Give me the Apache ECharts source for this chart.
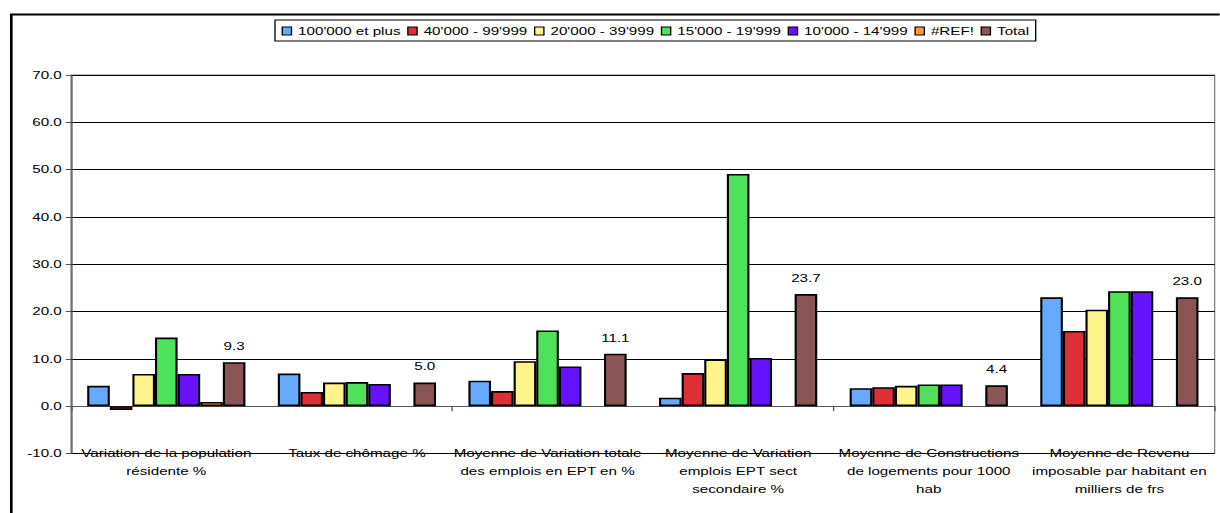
<!DOCTYPE html>
<html>
<head>
<meta charset="utf-8">
<script src="https://cdn.jsdelivr.net/npm/echarts@6/dist/echarts.min.js"></script>
<style>
html,body{margin:0;padding:0;background:#fff;overflow:hidden;}
#wrap{width:1220px;height:513px;overflow:hidden;background:#fff;}
#chart{height:513px;transform-origin:0 0;}
</style>
</head>
<body>
<div id="wrap"><div id="chart"></div></div>
<script>
const categories = [
  "Variation de la population\nrésidente %",
  "Taux de chômage %",
  "Moyenne de Variation totale\ndes emplois en EPT en %",
  "Moyenne de Variation\nemplois EPT sect\nsecondaire %",
  "Moyenne de Constructions\nde logements pour 1000\nhab",
  "Moyenne de Revenu\nimposable par habitant en\nmilliers de frs"
];
const seriesNames = ["100'000 et plus", "40'000 - 99'999", "20'000 - 39'999", "15'000 - 19'999", "10'000 - 14'999", "#REF!", "Total"];
const s100k = [4.3, 6.9, 5.4, 1.8, 3.8, 23.0];
const s40k = [-0.8, 3.0, 3.2, 7.0, 4.0, 15.9];
const s20k = [6.8, 5.0, 9.5, 9.9, 4.3, 20.4];
const s15k = [14.5, 5.1, 16.0, 49.1, 4.6, 24.3];
const s10k = [6.8, 4.7, 8.4, 10.2, 4.6, 24.3];
const sRef = [0.9, null, null, null, null, null];
const sTotal = [9.3, 5.0, 11.1, 23.7, 4.4, 23.0];
const yTicks = [-10, 0, 10, 20, 30, 40, 50, 60, 70];

const colors = ["#66aaff", "#dd2f36", "#fff38b", "#4ee25a", "#6612ff", "#ff9933", "#8b5555"];
const dataSets = [s100k, s40k, s20k, s15k, s10k, sRef, sTotal];

// horizontal stretch of the original picture
const SX = 1.32;
const W = 1220 / SX;
const el = document.getElementById('chart');
el.style.width = W + 'px';
el.style.transform = 'scaleX(' + SX + ')';

const font = "'Liberation Sans', Arial, sans-serif";
const series = dataSets.map((d, i) => ({
  name: seriesNames[i],
  type: 'bar',
  data: d,
  xAxisIndex: 0,
  barGap: '0%',
  barCategoryGap: '17%',
  itemStyle: { color: colors[i], borderColor: '#000', borderWidth: 1.6 },
  label: i === 6 ? {
    show: true, position: 'top', distance: 10,
    formatter: p => p.value.toFixed(1),
    fontFamily: font, fontSize: 11.5, color: '#000'
  } : { show: false },
  emphasis: { disabled: true }
}));

const chart = echarts.init(el, null, { renderer: 'svg' });
chart.setOption({
  animation: false,
  backgroundColor: '#fff',
  color: colors,
  textStyle: { fontFamily: font },
  graphic: [{
    type: 'rect', left: 8 / SX, top: 12, shape: { x: 0, y: 0, width: 1240, height: 520 },
    style: { fill: 'none', stroke: '#000', lineWidth: 2 }, silent: true, z: -1
  }],
  legend: {
    top: 20, left: 275 / SX,
    data: seriesNames,
    icon: 'rect', itemWidth: 7, itemHeight: 8, itemGap: 5,
    itemStyle: { borderColor: '#000', borderWidth: 1 },
    textStyle: { fontFamily: font, fontSize: 11.5, color: '#000' },
    borderColor: '#000', borderWidth: 1, padding: [5, 5, 4, 5],
    selectedMode: false
  },
  grid: {
    left: 71 / SX, right: 5 / SX, top: 75, bottom: 59.5,
    show: true, borderColor: '#888', borderWidth: 1, containLabel: false
  },
  xAxis: [{
    type: 'category', data: categories, position: 'bottom',
    axisLine: { show: false, onZero: false }, axisTick: { show: false },
    axisLabel: { fontFamily: font, fontSize: 11.5, color: '#000', lineHeight: 18, margin: -9, interval: 0 }
  }, {
    type: 'category', data: categories, position: 'bottom',
    axisLine: { show: true, onZero: true, lineStyle: { color: '#555', width: 1 } },
    axisTick: { show: true, length: 5, lineStyle: { color: '#555' } },
    axisLabel: { show: false }
  }],
  yAxis: {
    type: 'value', min: yTicks[0], max: yTicks[yTicks.length - 1], interval: 10,
    axisLine: { show: true, lineStyle: { color: '#555', width: 1 } },
    axisTick: { show: true, length: 4, lineStyle: { color: '#555' } },
    axisLabel: { fontFamily: font, fontSize: 11.5, color: '#000', margin: 7, formatter: v => v.toFixed(1) },
    splitLine: { show: true, lineStyle: { color: '#000', width: 1 } }
  },
  series: series
});
</script>
</body>
</html>
